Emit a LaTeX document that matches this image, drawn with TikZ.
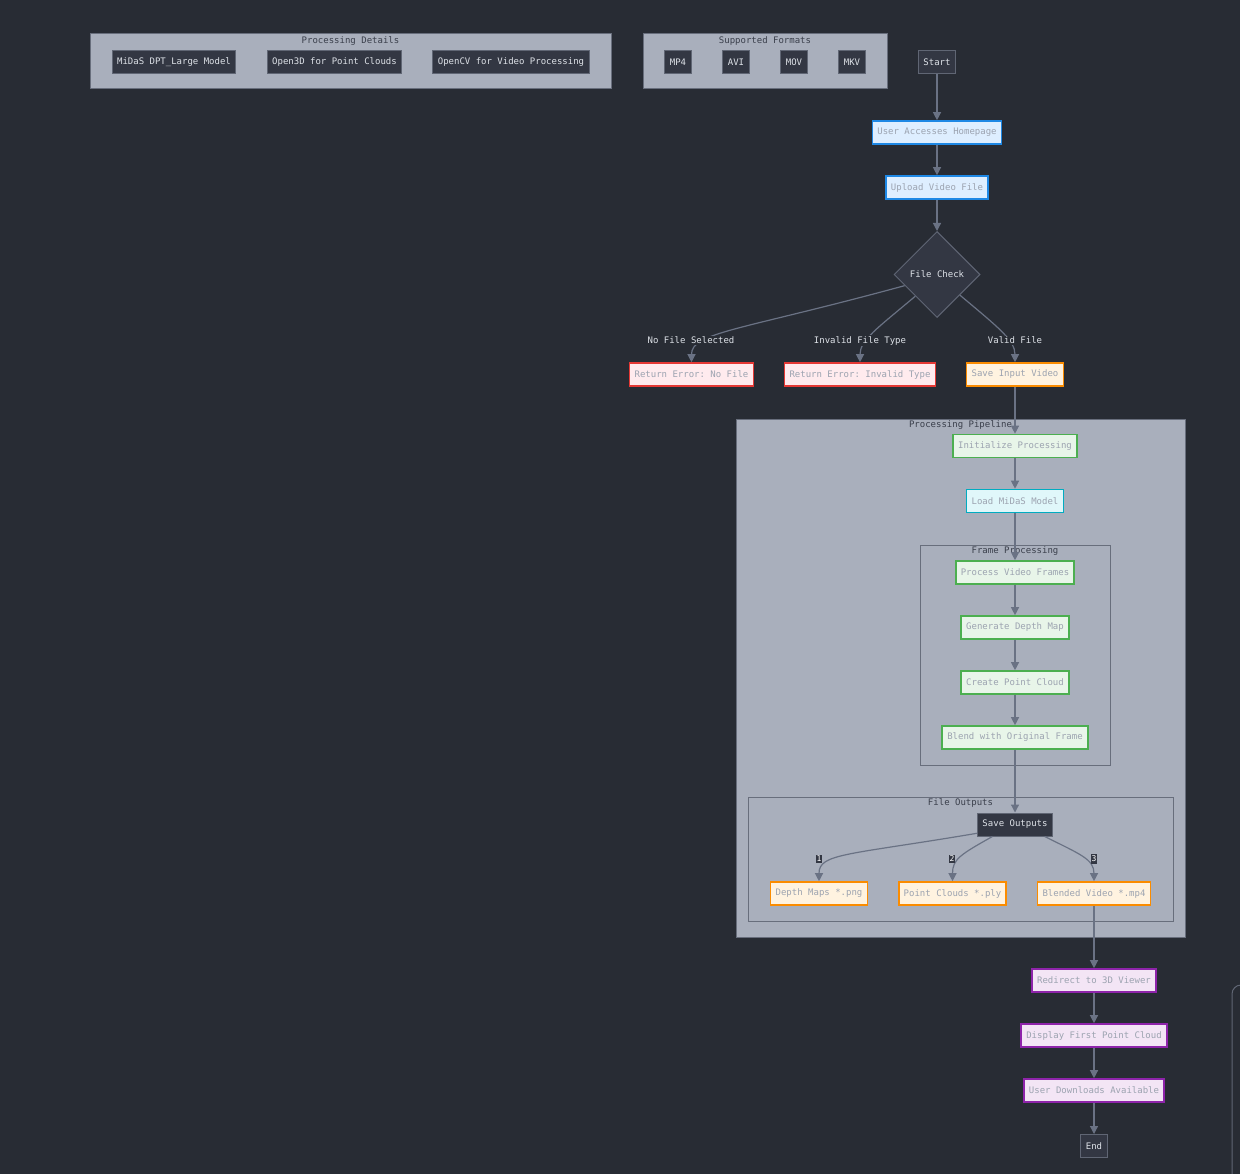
\documentclass[tikz,border=0pt]{standalone}
\usepackage{fontspec}
\setmonofont{DejaVu Sans Mono}
\usepackage{tikz}
\usetikzlibrary{arrows.meta,shapes.geometric}

\definecolor{bgdark}{RGB}{40,44,52}
\definecolor{clusterfill}{RGB}{169,175,188}
\definecolor{clusterline}{RGB}{104,110,124}
\definecolor{titledark}{RGB}{58,63,75}
\definecolor{nodedark}{RGB}{51,55,67}
\definecolor{nodeline}{RGB}{96,102,116}
\definecolor{textlight}{RGB}{222,226,232}
\definecolor{textgray}{RGB}{156,163,176}
\definecolor{edgecol}{RGB}{106,114,132}
\definecolor{blueFill}{RGB}{222,238,255}
\definecolor{blueLine}{RGB}{30,136,229}
\definecolor{redFill}{RGB}{255,235,238}
\definecolor{redLine}{RGB}{229,57,53}
\definecolor{orangeFill}{RGB}{255,243,224}
\definecolor{orangeLine}{RGB}{251,140,0}
\definecolor{greenFill}{RGB}{232,245,233}
\definecolor{greenLine}{RGB}{76,175,80}
\definecolor{cyanFill}{RGB}{224,247,250}
\definecolor{cyanLine}{RGB}{0,172,193}
\definecolor{purpleFill}{RGB}{243,229,245}
\definecolor{purpleLine}{RGB}{142,36,170}

\tikzset{
  box/.style={rectangle, minimum height=23pt, inner xsep=5pt, inner ysep=2pt,
    font=\ttfamily\fontsize{9}{11}\selectfont},
  darkbox/.style={box, fill=nodedark, draw=nodeline, line width=1pt, text=textlight},
  bluebox/.style={box, fill=blueFill, draw=blueLine, line width=1.6pt, text=textgray},
  redbox/.style={box, fill=redFill, draw=redLine, line width=1.6pt, text=textgray},
  orangebox/.style={box, fill=orangeFill, draw=orangeLine, line width=1.6pt, text=textgray},
  greenbox/.style={box, fill=greenFill, draw=greenLine, line width=1.6pt, text=textgray},
  cyanbox/.style={box, fill=cyanFill, draw=cyanLine, line width=1.6pt, text=textgray},
  purplebox/.style={box, fill=purpleFill, draw=purpleLine, line width=1.6pt, text=textgray},
  cluster/.style={draw=clusterline, fill=clusterfill, line width=1pt},
  ctitle/.style={inner sep=1pt, text=titledark, font=\ttfamily\fontsize{9}{11}\selectfont},
  edge/.style={draw=edgecol, line width=1.2pt, -{Triangle[length=8pt,width=8pt]}},
  elabel/.style={fill=bgdark, text=textlight, inner sep=1pt,
    font=\ttfamily\fontsize{9}{11}\selectfont},
  numlabel/.style={fill=nodedark, text=white, inner xsep=1pt, inner ysep=1.5pt,
    font=\ttfamily\fontsize{8}{9}\selectfont}
}

\begin{document}
\begin{tikzpicture}[x=1pt, y=-1pt]
\useasboundingbox (0,0) rectangle (1240,1174);
\fill[bgdark] (0,0) rectangle (1240,1174);

% groups
\draw[cluster] (90,34) rectangle (611,89);
\node[ctitle] (detT) at (350.5,41) {Processing Details};
\draw[cluster] (643,34) rectangle (887,89);
\node[ctitle] (fmtT) at (765,41) {Supported Formats};
\draw[cluster] (736,419) rectangle (1185,937);
\node[ctitle] (pipeT) at (960.5,425) {Processing Pipeline};
\draw[cluster] (920,545) rectangle (1110,765);
\node[ctitle] (frameT) at (1015,551) {Frame Processing};
\draw[cluster] (748,797) rectangle (1173,921);
\node[ctitle] (outT) at (960.5,803) {File Outputs};

% partial legend frame at the right edge
\begin{scope}
\clip (0,0) rectangle (1240,1174);
\draw[nodeline, line width=1pt, rounded corners=9pt] (1260,985) -- (1232,985) -- (1232,1200);
\end{scope}

% details and formats
\node[darkbox] (midas) at (174,62) {MiDaS DPT\_Large Model};
\node[darkbox] (open3d) at (334.5,62) {Open3D for Point Clouds};
\node[darkbox] (opencv) at (511,62) {OpenCV for Video Processing};
\node[darkbox] (mp4) at (678,62) {MP4};
\node[darkbox] (avi) at (736,62) {AVI};
\node[darkbox] (mov) at (794,62) {MOV};
\node[darkbox] (mkv) at (852,62) {MKV};

% main flow
\node[darkbox] (start) at (937,62) {Start};
\node[bluebox] (home) at (937,132.5) {User Accesses Homepage};
\node[bluebox] (upload) at (937,187.5) {Upload Video File};
\node[diamond, aspect=1, minimum width=86pt, minimum height=86pt, inner sep=0pt,
  fill=nodedark, draw=nodeline, line width=1pt, text=textlight,
  font=\ttfamily\fontsize{9}{11}\selectfont] (check) at (937,274.5) {File Check};
\node[redbox] (nofile) at (691.5,374.5) {Return Error: No File};
\node[redbox] (badtype) at (860,374.5) {Return Error: Invalid Type};
\node[orangebox] (save) at (1015,374.5) {Save Input Video};

\node[greenbox] (init) at (1015,446) {Initialize Processing};
\node[cyanbox] (load) at (1015,501) {Load MiDaS Model};
\node[greenbox] (frames) at (1015,572.5) {Process Video Frames};
\node[greenbox] (depth) at (1015,627.5) {Generate Depth Map};
\node[greenbox] (cloud) at (1015,682.5) {Create Point Cloud};
\node[greenbox] (blend) at (1015,737.5) {Blend with Original Frame};

\node[darkbox] (outs) at (1015,824.5) {Save Outputs};
\node[orangebox] (pngs) at (819,893.5) {Depth Maps *.png};
\node[orangebox] (plys) at (952.5,893.5) {Point Clouds *.ply};
\node[orangebox] (mp4out) at (1094,893.5) {Blended Video *.mp4};

\node[purplebox] (viewer) at (1094,980.5) {Redirect to 3D Viewer};
\node[purplebox] (first) at (1094,1035.5) {Display First Point Cloud};
\node[purplebox] (dl) at (1094,1090.5) {User Downloads Available};
\node[darkbox] (end) at (1094,1146) {End};

% connectors
\draw[edge] (start) -- (home);
\draw[edge] (home) -- (upload);
\draw[edge] (upload) -- (check);
\draw[edge] (check.199) .. controls +(-165,45) and +(0,-30) .. (nofile.north);
\draw[edge] (check.225) .. controls +(-38,32) and +(0,-22) .. (badtype.north);
\draw[edge] (check.318) .. controls +(38,32) and +(0,-22) .. (save.north);
\draw[edge] (save) -- (init);
\draw[edge] (init) -- (load);
\draw[edge] (load) -- (frames);
\draw[edge] (frames) -- (depth);
\draw[edge] (depth) -- (cloud);
\draw[edge] (cloud) -- (blend);
\draw[edge] (blend) -- (outs);
\draw[edge] (outs.193) .. controls +(-130,22) and +(0,-28) .. (pngs.north);
\draw[edge] (outs.208) .. controls +(-32,18) and +(0,-22) .. (plys.north);
\draw[edge] (outs.338) .. controls +(36,18) and +(0,-22) .. (mp4out.north);
\draw[edge] (mp4out) -- (viewer);
\draw[edge] (viewer) -- (first);
\draw[edge] (first) -- (dl);
\draw[edge] (dl) -- (end);

% labels on connectors
\node[elabel] (lnofile) at (691,340.5) {No File Selected};
\node[elabel] (lbad) at (860,340.5) {Invalid File Type};
\node[elabel] (lvalid) at (1015,340.5) {Valid File};
\node[numlabel] (lone) at (819,859) {1};
\node[numlabel] (ltwo) at (952,859) {2};
\node[numlabel] (lthree) at (1094,859) {3};
\end{tikzpicture}
\end{document}
